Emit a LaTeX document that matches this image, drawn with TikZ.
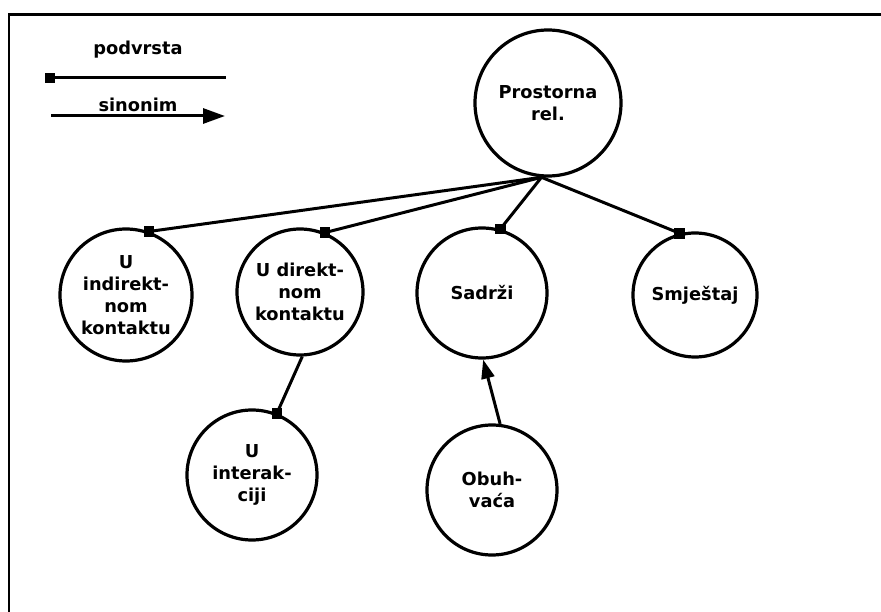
\documentclass[tikz,border=0pt]{standalone}
\usepackage{fontspec}
\setmainfont{DejaVu Sans}
\usetikzlibrary{arrows.meta}
\tikzset{
  conc/.style={circle,draw,line width=3.2pt,minimum size=#1,inner sep=0pt,align=center,
    font=\fontsize{17.8}{22}\selectfont\bfseries},
  sq/.style={fill=black,minimum size=10.5pt,inner sep=0pt,outer sep=0pt},
  link/.style={line width=3pt},
  syn/.style={line width=3pt,-{Triangle[length=19pt,width=13pt]}},
  synleg/.style={line width=3pt,-{Triangle[length=22pt,width=15pt]}},
  lbl/.style={font=\fontsize{17.8}{22}\selectfont\bfseries,inner sep=0pt},
}
\begin{document}
\begin{tikzpicture}[x=1pt,y=-1pt]
\useasboundingbox (0,0) rectangle (881,612);
\draw[line width=2.9pt] (9,612) -- (9,14.5) -- (881,14.5);
% legend
\node[lbl] (lp) at (138,50) {podvrsta};
\coordinate (lpa) at (50,78);
\coordinate (lpb) at (226,78);
\draw[link] (lpa) -- (lpb);
\node[sq] (lps) at (lpa) {};
\node[lbl,anchor=base] (ls) at (138,112) {sinonim};
\coordinate (lsa) at (51,116);
\coordinate (lsb) at (225,116);
\draw[synleg] (lsa) -- (lsb);
% concepts
\node[conc=146pt] (pr) at (548,103) {Prostorna\\rel.};
\node[conc=132pt] (ui) at (126,295) {U\\indirekt-\\nom\\kontaktu};
\node[conc=126pt] (ud) at (300,292) {U direkt-\\nom\\kontaktu};
\node[conc=130pt] (sa) at (482,293) {Sadrži};
\node[conc=124pt] (sm) at (695,295) {Smještaj};
\node[conc=130pt] (in) at (252,475) {U\\interak-\\ciji};
\node[conc=130pt] (ob) at (492,490) {Obuh-\\vaća};
\coordinate (hub) at (pr.-95);
\draw[link] (hub) -- (ui.70);
\draw[link] (hub) -- (ud.67);
\draw[link] (hub) -- (sa.74);
\draw[link] (hub) -- (sm.104);
\draw[link] (ud.-88) -- (in.68);
\node[sq] (s1) at (ui.70) {};
\node[sq] (s2) at (ud.67) {};
\node[sq] (s3) at (sa.74) {};
\node[sq] (s4) at (sm.104) {};
\node[sq] (s5) at (in.68) {};
\draw[syn] (ob.83) -- (sa.-89);
\end{tikzpicture}
\end{document}
